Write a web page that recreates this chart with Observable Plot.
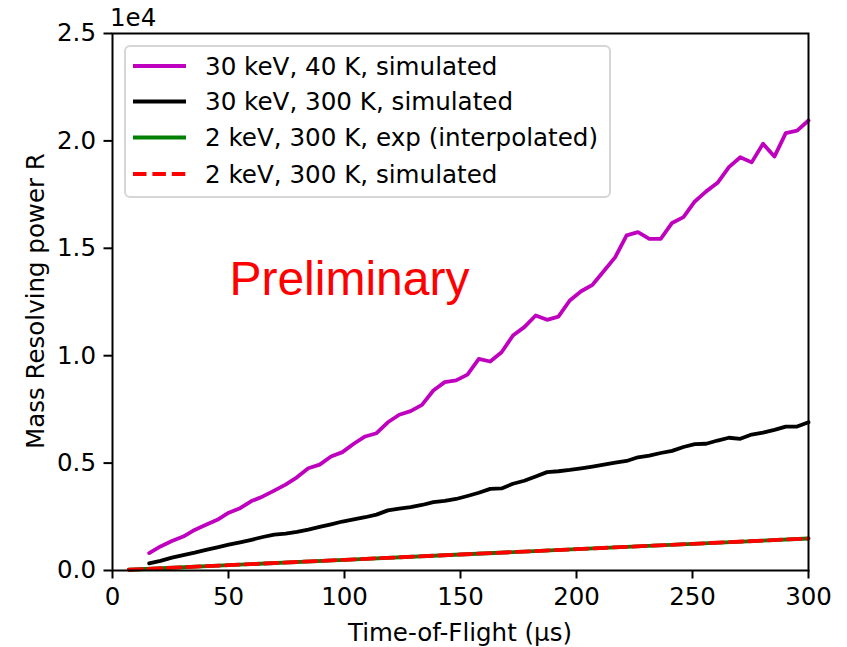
<!DOCTYPE html>
<html>
<head>
<meta charset="utf-8">
<script src="https://cdn.jsdelivr.net/npm/d3@7"></script>
<script src="https://cdn.jsdelivr.net/npm/@observablehq/plot@0.6"></script>
<style>
  html, body { margin: 0; padding: 0; background: #fff; }
  #chart { position: relative; width: 847px; height: 647px; }
</style>
</head>
<body>
<div id="chart"></div>
<script>
// Time-of-flight (µs) for the simulated 30 keV series
const tof = [15.8, 20.7, 25.6, 30.5, 35.4, 40.3, 45.2, 50.1, 55, 59.9, 64.8, 69.7, 74.6, 79.5, 84.4, 89.3, 94.2, 99.1, 104, 108.9,
  113.8, 118.7, 123.6, 128.5, 133.4, 138.3, 143.2, 148.1, 153, 157.9, 162.8, 167.7, 172.6, 177.5, 182.4, 187.3, 192.2, 197.1, 202, 206.9,
  211.8, 216.7, 221.6, 226.5, 231.4, 236.3, 241.2, 246.1, 251, 255.9, 260.8, 265.7, 270.6, 275.5, 280.4, 285.3, 290.2, 295.1, 300];
// Mass resolving power R, 30 keV, 40 K, simulated
const r30keV40K = [810, 1120, 1370, 1580, 1890, 2130, 2360, 2690, 2900, 3230, 3450, 3720, 4000, 4340, 4760, 4930, 5310, 5510, 5900, 6240,
  6390, 6900, 7250, 7420, 7710, 8380, 8770, 8850, 9120, 9850, 9730, 10160, 10940, 11330, 11870, 11670, 11820, 12570, 13000, 13300,
  13940, 14590, 15600, 15750, 15440, 15440, 16180, 16450, 17180, 17650, 18050, 18780, 19240, 19000, 19870, 19270, 20360, 20480, 20950];
// Mass resolving power R, 30 keV, 300 K, simulated
const r30keV300K = [330, 450, 600, 720, 830, 960, 1080, 1200, 1310, 1430, 1560, 1670, 1720, 1800, 1900, 2030, 2150, 2280, 2380, 2480,
  2600, 2800, 2880, 2950, 3050, 3180, 3240, 3330, 3470, 3620, 3800, 3820, 4040, 4180, 4380, 4580, 4620, 4680, 4760, 4840,
  4930, 5020, 5100, 5270, 5350, 5470, 5570, 5750, 5880, 5900, 6050, 6180, 6130, 6330, 6420, 6550, 6700, 6700, 6900];
// 2 keV, 300 K series
const tof2keV = [7, 50, 100, 150, 200, 250, 300];
const r2keVExp = [35, 249, 497, 745, 993, 1242, 1490];
const r2keVSim = [35, 249, 497, 745, 993, 1242, 1490];

const xTicks = [0, 50, 100, 150, 200, 250, 300];
const yTicks = [0, 5000, 10000, 15000, 20000, 25000];
const seriesLabels = ["30 keV, 40 K, simulated", "30 keV, 300 K, simulated", "2 keV, 300 K, exp (interpolated)", "2 keV, 300 K, simulated"];
const seriesColors = ["#bf00bf", "#000000", "#008000", "#ff0000"];
const annotation = [{x: 50.4, y: 13520, text: "Preliminary"}];

const rows = (xs, ys) => xs.map((x, i) => ({x, y: ys[i]}));
const FONT = "DejaVu Sans";
const FS = 24.5;
const LW = 3.8;
const DASH = "13.5,5.9";

const plot = Plot.plot({
  width: 847,
  height: 647,
  marginLeft: 112,
  marginRight: 39,
  marginTop: 33,
  marginBottom: 77,
  style: {fontFamily: FONT, fontSize: FS + "px", color: "#000", background: "#fff"},
  x: {domain: [0, 300]},
  y: {domain: [0, 25000]},
  marks: [
    Plot.line(rows(tof, r30keV40K), {x: "x", y: "y", stroke: seriesColors[0], strokeWidth: LW, strokeLinejoin: "round"}),
    Plot.line(rows(tof, r30keV300K), {x: "x", y: "y", stroke: seriesColors[1], strokeWidth: LW, strokeLinejoin: "round"}),
    Plot.line(rows(tof2keV, r2keVExp), {x: "x", y: "y", stroke: seriesColors[2], strokeWidth: LW}),
    Plot.line(rows(tof2keV, r2keVSim), {x: "x", y: "y", stroke: seriesColors[3], strokeWidth: LW, strokeDasharray: DASH}),
    Plot.text(annotation, {x: "x", y: "y", text: "text", textAnchor: "start", lineAnchor: "middle", fill: "#ff0000", fontSize: 48, fontFamily: "Liberation Sans"}),
    Plot.axisX({ticks: xTicks, tickSize: 8.5, tickPadding: 9, strokeWidth: 2, fontSize: FS, label: null, tickFormat: d => String(d)}),
    Plot.axisY({ticks: yTicks, tickSize: 8.5, tickPadding: 8, strokeWidth: 2, fontSize: FS, label: null, tickFormat: d => (d / 1e4).toFixed(1)}),
    Plot.frame({stroke: "#000", strokeWidth: 2})
  ]
});

document.getElementById("chart").appendChild(plot);

// Extra text and legend drawn on the same SVG
const svg = d3.select(plot);
svg.append("text").attr("x", 110).attr("y", 26).attr("text-anchor", "start").attr("font-family", FONT).attr("font-size", FS).attr("fill", "#000").text("1e4");
svg.append("text").attr("x", 460).attr("y", 641).attr("text-anchor", "middle").attr("font-family", FONT).attr("font-size", FS).attr("fill", "#000").text("Time-of-Flight (µs)");
svg.append("text").attr("transform", "translate(44,301) rotate(-90)").attr("text-anchor", "middle").attr("font-family", FONT).attr("font-size", FS).attr("fill", "#000").text("Mass Resolving power R");

const leg = svg.append("g");
leg.append("rect").attr("x", 125).attr("y", 46).attr("width", 485).attr("height", 151).attr("rx", 5)
  .attr("fill", "#fff").attr("fill-opacity", 0.8).attr("stroke", "#d6d6d6").attr("stroke-width", 2);
const rowY = [66, 101.5, 137.5, 174];
seriesLabels.forEach((lab, i) => {
  leg.append("line").attr("x1", 133).attr("x2", 186).attr("y1", rowY[i]).attr("y2", rowY[i])
    .attr("stroke", seriesColors[i]).attr("stroke-width", LW).attr("stroke-dasharray", i === 3 ? DASH : null);
  leg.append("text").attr("x", 205).attr("y", rowY[i]).attr("dy", "0.36em").attr("text-anchor", "start")
    .attr("font-family", FONT).attr("font-size", 24.6).attr("fill", "#000").text(lab);
});
</script>
</body>
</html>
